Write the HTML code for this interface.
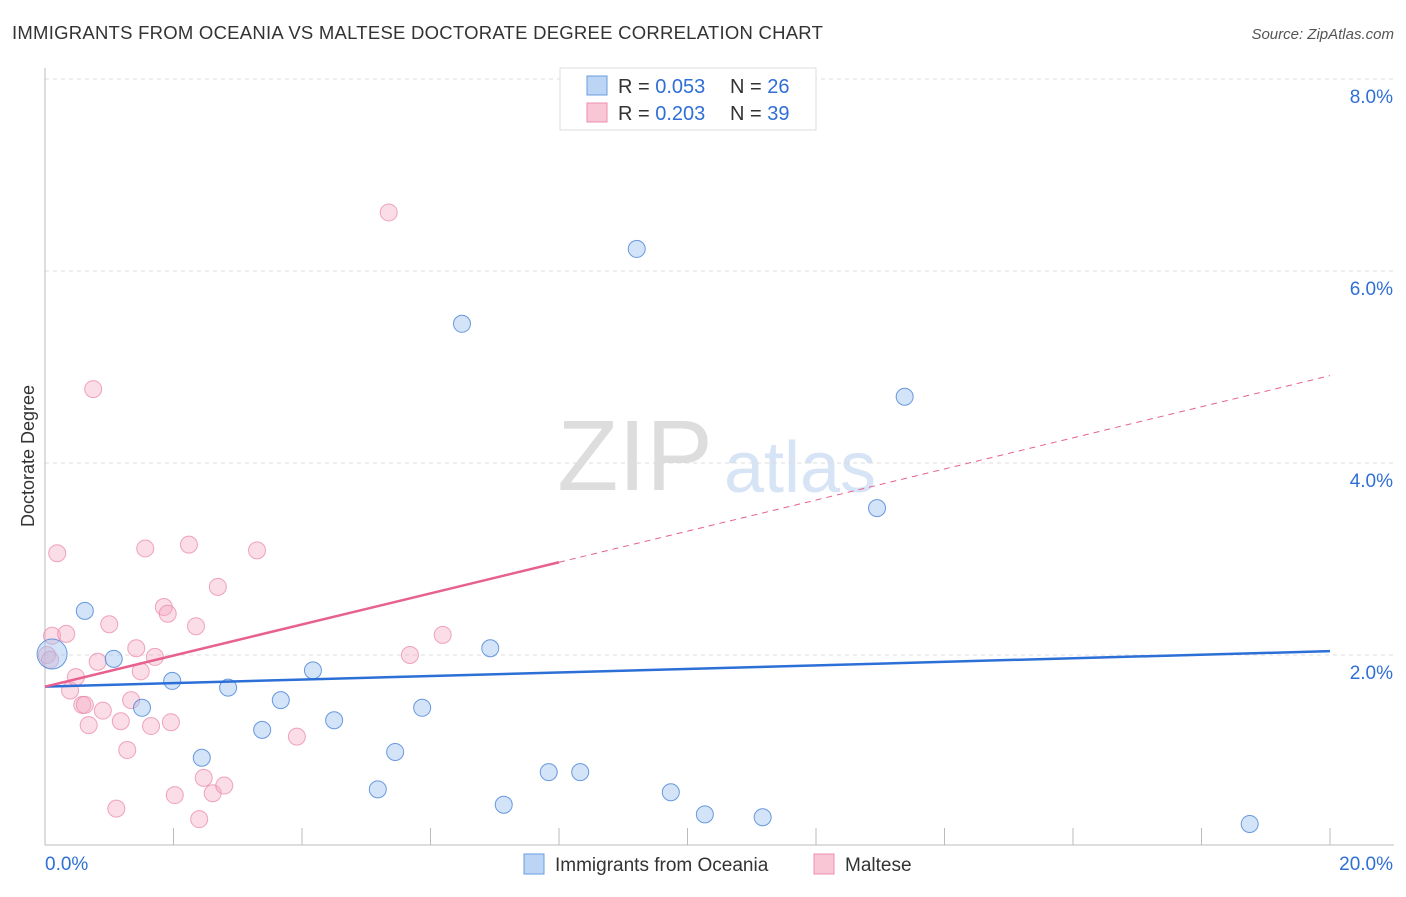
<!DOCTYPE html>
<html><head><meta charset="utf-8"><style>
body{margin:0;background:#fff;font-family:"Liberation Sans",sans-serif;}
svg text{font-family:"Liberation Sans",sans-serif;}
</style></head><body>
<svg id="chart" width="1406" height="892">
<text x="12" y="39" font-size="18.5" letter-spacing="0.25" fill="#333">IMMIGRANTS FROM OCEANIA VS MALTESE DOCTORATE DEGREE CORRELATION CHART</text>
<text x="1394" y="39" font-size="15" fill="#555" text-anchor="end" font-style="italic">Source: ZipAtlas.com</text>
<text x="34" y="456" font-size="18" fill="#333" text-anchor="middle" transform="rotate(-90 34 456)">Doctorate Degree</text>
<g><text x="635" y="490" font-size="100" fill="#ddd" text-anchor="middle" font-family="Liberation Serif">ZIP</text><text x="800" y="492" font-size="72" fill="#d6e4f5" text-anchor="middle">atlas</text></g>
<g id="grid"></g><g id="axes"></g><g id="marks"></g>
<g>
<rect x="560" y="68" width="256" height="62" fill="#fff" stroke="#ddd"/>
<rect x="587" y="76" width="20" height="19" fill="#bcd5f5" stroke="#6a9de0"/>
<rect x="587" y="103" width="20" height="19" fill="#f9c6d5" stroke="#ec90ad"/>
<text x="618" y="93" font-size="20" fill="#333">R = <tspan fill="#2f6fd6">0.053</tspan></text>
<text x="730" y="93" font-size="20" fill="#333">N = <tspan fill="#2f6fd6">26</tspan></text>
<text x="618" y="120" font-size="20" fill="#333">R = <tspan fill="#2f6fd6">0.203</tspan></text>
<text x="730" y="120" font-size="20" fill="#333">N = <tspan fill="#2f6fd6">39</tspan></text>
</g>
<g>
<rect x="524" y="854" width="20" height="20" fill="#bcd5f5" stroke="#6a9de0"/>
<text x="555" y="871" font-size="19" fill="#333">Immigrants from Oceania</text>
<rect x="814" y="854" width="20" height="20" fill="#f9c6d5" stroke="#ec90ad"/>
<text x="845" y="871" font-size="19" fill="#333">Maltese</text>
</g>
</svg>
<script>
const xTicks=[0,20];
const yTicks=[2,4,6,8];
const blueX=[0.11,0.62,1.07,1.51,1.98,2.44,2.85,3.38,3.67,4.17,4.50,5.18,5.45,5.87,6.49,6.93,7.14,7.84,8.33,9.21,9.74,10.27,11.17,12.95,13.38,18.75];
const blueY=[2.01,2.46,1.96,1.45,1.73,0.93,1.66,1.22,1.53,1.84,1.32,0.60,0.99,1.45,5.45,2.07,0.44,0.78,0.78,6.23,0.57,0.34,0.31,3.53,4.69,0.24];
const pinkX=[0.11,0.19,0.33,0.03,0.39,0.48,0.58,0.62,0.68,0.75,0.82,0.90,1.00,1.18,1.28,1.11,1.34,1.42,1.49,1.56,1.65,1.71,1.85,1.91,1.96,2.02,2.24,2.35,2.40,2.47,2.61,2.69,2.79,3.30,3.92,5.35,5.68,6.19,0.08];
const pinkY=[2.20,3.06,2.22,2.00,1.63,1.77,1.48,1.48,1.27,4.77,1.93,1.42,2.32,1.31,1.01,0.40,1.53,2.07,1.83,3.11,1.26,1.98,2.50,2.43,1.30,0.54,3.15,2.30,0.29,0.72,0.56,2.71,0.64,3.09,1.15,6.61,2.00,2.21,1.95];
const blueTrend=[1.67,2.04];
const pinkTrend=[1.67,4.91];
const pinkSolidEnd=8.0;
const X=v=>45+v/20*1285, Y=v=>847-v*96;
const NS="http://www.w3.org/2000/svg";
function mk(p,t,a){const e=document.createElementNS(NS,t);for(const k in a)e.setAttribute(k,a[k]);p.appendChild(e);return e;}
const grid=document.getElementById('grid'),axes=document.getElementById('axes'),marks=document.getElementById('marks');
yTicks.forEach(v=>{
 const l=mk(grid,'line',{x1:45,x2:1394,y1:Y(v),y2:Y(v),stroke:'#ddd','stroke-dasharray':'4,4'});
 
 
 const t=mk(axes,'text',{x:1393,y:Y(v)+24,'font-size':19,fill:'#2f6fd6','text-anchor':'end'});t.textContent=v.toFixed(1)+'%';
 
 
});
mk(axes,'line',{x1:45,x2:45,y1:68,y2:845,stroke:'#bbb'});
mk(axes,'line',{x1:45,x2:1394,y1:845,y2:845,stroke:'#bbb'});
for(let i=1;i<=10;i++){mk(axes,'line',{x1:X(i*2),x2:X(i*2),y1:828,y2:845,stroke:'#bbb'});}
xTicks.forEach((v,i)=>{const t=mk(axes,'text',{x:i?1393:45,y:870,'font-size':19,fill:'#2f6fd6','text-anchor':i?'end':'start'});t.textContent=v.toFixed(1)+'%';
 
 });
const pc=(v,x)=>pinkTrend[0]+(pinkTrend[1]-pinkTrend[0])*x/20;
pinkX.forEach((x,i)=>{const c=mk(marks,'circle',{cx:X(x),cy:Y(pinkY[i]),r:8.5,fill:'rgba(246,170,195,0.4)',stroke:'rgba(232,130,165,0.7)'});
 
 });
blueX.forEach((x,i)=>{const c=mk(marks,'circle',{cx:X(x),cy:Y(blueY[i]),r:i==0?15:8.5,fill:'rgba(160,195,240,0.45)',stroke:'rgba(70,130,215,0.8)'});
 
 });
const bl=mk(marks,'line',{x1:X(0),y1:Y(blueTrend[0]),x2:X(20),y2:Y(blueTrend[1]),stroke:'#2c6fd6','stroke-width':2.5});


const pl=mk(marks,'line',{x1:X(0),y1:Y(pc(0,0)),x2:X(pinkSolidEnd),y2:Y(pc(0,pinkSolidEnd)),stroke:'#e7608e','stroke-width':2.5});


const pd=mk(marks,'line',{x1:X(pinkSolidEnd),y1:Y(pc(0,pinkSolidEnd)),x2:X(20),y2:Y(pinkTrend[1]),stroke:'#e7608e','stroke-width':1,'stroke-dasharray':'6,5'});


</script>
</body></html>
